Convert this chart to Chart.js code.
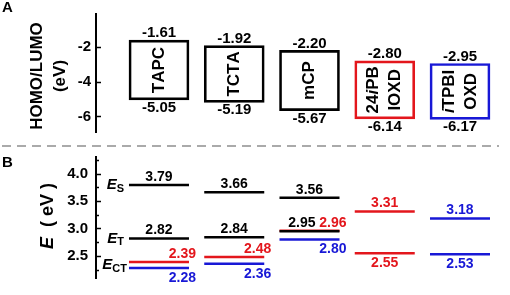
<!DOCTYPE html>
<html>
<head>
<meta charset="utf-8">
<script src="https://cdn.jsdelivr.net/npm/chart.js@4.4.0/dist/chart.umd.min.js"></script>
<style>
  html, body { margin: 0; padding: 0; background: #fff; }
  #wrap { position: relative; width: 510px; height: 295px; overflow: hidden; }
  #cA { position: absolute; left: 0; top: 0; }
  #cB { position: absolute; left: 0; top: 140px; }
</style>
</head>
<body>
<div id="wrap">
  <canvas id="cA" width="510" height="146"></canvas>
  <canvas id="cB" width="510" height="155"></canvas>
</div>
<script>
// ---- data ----
const materials = ['TAPC', 'TCTA', 'mCP', '24iPBIOXD', 'iTPBIOXD'];
const boxNames = [['TAPC'], ['TCTA'], ['mCP'], ['24iPB', 'IOXD'], ['iTPBI', 'OXD']];
const lumo = [-1.61, -1.92, -2.20, -2.80, -2.95];
const homo = [-5.05, -5.19, -5.67, -6.14, -6.17];
const ticksA = [-6, -4, -2];

const esLevels = [3.79, 3.66, 3.56, 3.31, 3.18];
const etLevels = [2.82, 2.84, 2.95, 2.55, 2.53];
const ectRed = [2.39, 2.48, 2.96, null, null];
const ectBlue = [2.28, 2.36, 2.80, null, null];
const ticksB = [2.5, 3.0, 3.5, 4.0];
const minorB = [2.25, 2.75, 3.25, 3.75, 4.25];

// ---- style ----
const FONT = "'Liberation Sans', Arial, sans-serif";
const RED = '#e3161c';
const BLUE = '#1818d6';
const matColors = ['#000', '#000', '#000', RED, BLUE];
const X_MIN = -0.837, X_MAX = 4.598;

function drawSegs(ctx, segs, x, y, align) {
  let total = 0;
  segs.forEach(s => { ctx.font = s.font; s.w = ctx.measureText(s.t).width; total += s.w; });
  let cx = align === 'center' ? x - total / 2 : align === 'right' ? x - total : x;
  ctx.textAlign = 'left';
  segs.forEach(s => { ctx.font = s.font; ctx.fillText(s.t, cx, y + (s.dy || 0)); cx += s.w; });
}
function richName(t, size) {
  // the lowercase i in the acceptor names is italic
  return t.split('').map(ch => ({ t: ch, font: (ch === 'i' ? 'italic ' : '') + 'bold ' + size + 'px ' + FONT }));
}

function innerTicks(majors, minors) {
  return {
    id: 'innerTicks',
    afterDraw(chart) {
      const ctx = chart.ctx, ys = chart.scales.y, x0 = chart.chartArea.left;
      ctx.save();
      ctx.strokeStyle = '#000';
      ctx.lineWidth = 1.5;
      majors.forEach(v => {
        const y = Math.round(ys.getPixelForValue(v)) + 0.5;
        ctx.beginPath(); ctx.moveTo(x0, y); ctx.lineTo(x0 + 5, y); ctx.stroke();
      });
      minors.forEach(v => {
        const y = Math.round(ys.getPixelForValue(v)) + 0.5;
        ctx.beginPath(); ctx.moveTo(x0, y); ctx.lineTo(x0 + 3, y); ctx.stroke();
      });
      ctx.restore();
    }
  };
}

// ---- panel A ----
const labelsA = {
  id: 'labelsA',
  afterDatasetsDraw(chart) {
    const ctx = chart.ctx, xs = chart.scales.x, ys = chart.scales.y;
    ctx.save();
    ctx.fillStyle = '#000';
    ctx.textBaseline = 'middle';
    materials.forEach((m, i) => {
      const x = xs.getPixelForValue(i);
      ctx.font = 'bold 15px ' + FONT;
      ctx.textAlign = 'center';
      ctx.fillText(lumo[i].toFixed(2), x, ys.getPixelForValue(lumo[i]) - 7);
      ctx.fillText(homo[i].toFixed(2), x, ys.getPixelForValue(homo[i]) + 8);
      const yc = (ys.getPixelForValue(lumo[i]) + ys.getPixelForValue(homo[i])) / 2;
      const lines = boxNames[i];
      ctx.save();
      ctx.translate(x, yc);
      ctx.rotate(-Math.PI / 2);
      lines.forEach((t, k) => {
        const off = lines.length === 1 ? 0 : (k === 0 ? -11 : 11);
        drawSegs(ctx, richName(t, 17), 0, off, 'center');
      });
      ctx.restore();
    });
    // axis title
    ctx.save();
    ctx.translate(48.5, 76);
    ctx.rotate(-Math.PI / 2);
    ctx.textAlign = 'center';
    ctx.font = 'bold 17px ' + FONT;
    ctx.fillText('HOMO/LUMO', 0, -11.5);
    ctx.fillText('(eV)', 0, 11.5);
    ctx.restore();
    ctx.textAlign = 'left';
    ctx.textBaseline = 'alphabetic';
    ctx.font = 'bold 15px ' + FONT;
    ctx.fillText('A', 2, 12);
    ctx.restore();
  }
};

new Chart(document.getElementById('cA'), {
  type: 'bar',
  data: {
    datasets: [{
      data: materials.map((m, i) => ({ x: i, y: [homo[i], lumo[i]] })),
      backgroundColor: 'rgba(255,255,255,0)',
      borderColor: matColors,
      borderWidth: 2,
      borderSkipped: false,
      barThickness: 60
    }]
  },
  options: {
    responsive: false,
    animation: false,
    layout: { autoPadding: false, padding: { left: 0, right: 5, top: 7, bottom: 3 } },
    plugins: { legend: { display: false }, tooltip: { enabled: false } },
    scales: {
      x: { type: 'linear', display: false, min: X_MIN, max: X_MAX, offset: false, grid: { offset: false } },
      y: {
        min: -6.9, max: -0.1,
        afterFit(s) { s.width = 96; },
        afterBuildTicks(s) { s.ticks = ticksA.map(v => ({ value: v })); },
        border: { display: true, color: '#000', width: 2 },
        grid: { drawOnChartArea: false, drawTicks: false },
        ticks: { color: '#000', padding: 5, font: { family: FONT, size: 15, weight: 'bold' } }
      }
    }
  },
  plugins: [labelsA, innerTicks(ticksA, [])]
});

// ---- panel B ----
function pts(arr) {
  return arr.map((v, i) => ({ x: i, y: v })).filter(p => p.y !== null);
}

const labelsB = {
  id: 'labelsB',
  beforeDraw(chart) {
    const ctx = chart.ctx;
    ctx.save();
    ctx.strokeStyle = '#aaaaaa';
    ctx.lineWidth = 2;
    ctx.setLineDash([9, 6]);
    ctx.beginPath(); ctx.moveTo(2, 6); ctx.lineTo(499, 6); ctx.stroke();
    ctx.restore();
  },
  afterDatasetsDraw(chart) {
    const ctx = chart.ctx, xs = chart.scales.x, ys = chart.scales.y;
    ctx.save();
    ctx.textBaseline = 'middle';
    chart.data.datasets.forEach(ds => {
      ds.data.forEach(p => {
        const px = xs.getPixelForValue(p.x), py = ys.getPixelForValue(p.y);
        const mode = ds.labelAt[p.x];
        ctx.fillStyle = ds.colorOf(p.x);
        ctx.font = 'bold 14px ' + FONT;
        const t = p.y.toFixed(2);
        if (mode === 'above') { ctx.textAlign = 'center'; ctx.fillText(t, px, py - 8); }
        else if (mode === 'below') { ctx.textAlign = 'center'; ctx.fillText(t, px, py + 10); }
        else if (mode === 'aboveLeft') { ctx.textAlign = 'right'; ctx.fillText(t, px + 6, py - 8); }
        else if (mode === 'aboveRight') { ctx.textAlign = 'right'; ctx.fillText(t, px + 37, py - 8); }
        else if (mode === 'belowRight') { ctx.textAlign = 'right'; ctx.fillText(t, px + 37, py + 10); }
      });
    });
    // level names at the left
    ctx.fillStyle = '#000';
    const it = 'italic bold 15px ' + FONT, sub = 'bold 11px ' + FONT;
    drawSegs(ctx, [{ t: 'E', font: it }, { t: 'S', font: sub, dy: 4 }], 124, ys.getPixelForValue(esLevels[0]), 'right');
    drawSegs(ctx, [{ t: 'E', font: it }, { t: 'T', font: sub, dy: 4 }], 124, ys.getPixelForValue(etLevels[0]), 'right');
    drawSegs(ctx, [{ t: 'E', font: it }, { t: 'CT', font: sub, dy: 4 }], 127,
      (ys.getPixelForValue(ectRed[0]) + ys.getPixelForValue(ectBlue[0])) / 2, 'right');
    // axis title
    ctx.save();
    ctx.translate(48, 76);
    ctx.rotate(-Math.PI / 2);
    drawSegs(ctx, [{ t: 'E', font: 'italic bold 18px ' + FONT }, { t: '  ( eV )', font: 'bold 18px ' + FONT }], 0, 0, 'center');
    ctx.restore();
    ctx.textBaseline = 'alphabetic';
    ctx.textAlign = 'left';
    ctx.font = 'bold 15px ' + FONT;
    ctx.fillText('B', 2, 27);
    ctx.restore();
  }
};

function levelSet(arr, colorOf, labelAt) {
  return {
    data: pts(arr),
    colorOf: colorOf,
    labelAt: labelAt,
    showLine: false,
    pointStyle: 'line',
    pointRadius: 30,
    pointHoverRadius: 30,
    pointBorderWidth: 2.5,
    pointBorderColor: c => colorOf(c.raw.x),
    pointBackgroundColor: c => colorOf(c.raw.x)
  };
}

new Chart(document.getElementById('cB'), {
  type: 'scatter',
  data: {
    datasets: [
      levelSet(esLevels, i => matColors[i], ['above', 'above', 'above', 'above', 'above']),
      levelSet(etLevels, i => matColors[i], ['above', 'above', 'aboveLeft', 'below', 'below']),
      levelSet(ectRed, () => RED, ['aboveRight', 'aboveRight', 'aboveRight']),
      levelSet(ectBlue, () => BLUE, ['belowRight', 'belowRight', 'belowRight'])
    ]
  },
  options: {
    responsive: false,
    animation: false,
    layout: { autoPadding: false, padding: { left: 0, right: 5, top: 12, bottom: 10 } },
    plugins: { legend: { display: false }, tooltip: { enabled: false } },
    scales: {
      x: { type: 'linear', display: false, min: X_MIN, max: X_MAX },
      y: {
        min: 2.1, max: 4.3,
        afterFit(s) { s.width = 96; },
        afterBuildTicks(s) { s.ticks = ticksB.map(v => ({ value: v })); },
        border: { display: true, color: '#000', width: 2 },
        grid: { drawOnChartArea: false, drawTicks: false },
        ticks: { color: '#000', padding: 8, font: { family: FONT, size: 15, weight: 'bold' },
                 callback: v => v.toFixed(1) }
      }
    }
  },
  plugins: [labelsB, innerTicks(ticksB, minorB)]
});
</script>
</body>
</html>
